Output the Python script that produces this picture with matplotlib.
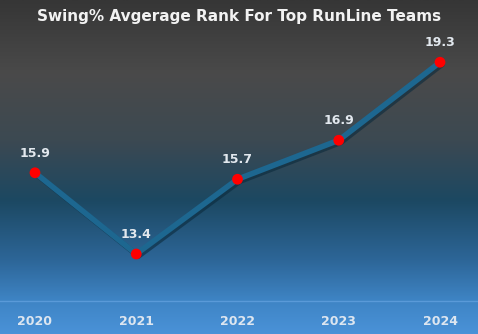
import numpy as np
import matplotlib
matplotlib.use("Agg")
import matplotlib.pyplot as plt
import matplotlib.patheffects as pe
from matplotlib.colors import LinearSegmentedColormap

years = ["2020", "2021", "2022", "2023", "2024"]
avg_rank = [15.9, 13.4, 15.7, 16.9, 19.3]

fig = plt.figure(figsize=(4.78, 3.34), dpi=100)

# background: grey at top fading to teal, then light blue at the bottom
bg = fig.add_axes([0, 0, 1, 1])
bg_cmap = LinearSegmentedColormap.from_list("bg", [
    (0.0, "#363636"),
    (0.22, "#4a4a4a"),
    (0.42, "#3c4952"),
    (0.60, "#1c4862"),
    (0.78, "#2d6698"),
    (0.90, "#3e84c4"),
    (1.0, "#4a92d8"),
])
grad = np.linspace(0, 1, 256).reshape(-1, 1)
bg.imshow(grad, aspect="auto", cmap=bg_cmap, extent=[0, 1, 0, 1], origin="upper")
bg.set_axis_off()

ax = fig.add_axes([0, 33 / 334, 1, 301 / 334])
ax.patch.set_alpha(0)
x = np.arange(len(years))
ax.plot(x, avg_rank, color="#1d6790", lw=4, solid_capstyle="round", zorder=2,
        path_effects=[pe.SimpleLineShadow(offset=(1.5, -1.5), shadow_color="#0b2a3c", alpha=0.6),
                      pe.Normal()])
ax.scatter(x, avg_rank, s=60, color="#ff0000", edgecolor="none", zorder=3)

for xi, v in zip(x, avg_rank):
    ax.annotate(f"{v}", (xi, v), xytext=(0, 14), textcoords="offset points",
                ha="center", va="center", color="#e2e8ee", fontsize=9, fontweight="bold")

ax.set_xlim(-35 / 101.25, 4 + 38 / 101.25)
ax.set_ylim(13.4 - 47 / 32.5, 13.4 + 254 / 32.5)
ax.set_xticks(x)
ax.set_xticklabels(years, color="#dde6f0", fontsize=9, fontweight="bold")
ax.tick_params(axis="x", length=0, pad=10)
ax.set_yticks([])
for s in ["top", "left", "right"]:
    ax.spines[s].set_visible(False)
ax.spines["bottom"].set_color("#5a9ad8")
ax.spines["bottom"].set_linewidth(1)

fig.text(0.5, 1 - 16 / 334, "Swing% Avgerage Rank For Top RunLine Teams",
         ha="center", va="center", color="#f2f2f2", fontsize=11, fontweight="bold")

fig.savefig("out.png", dpi=100)
